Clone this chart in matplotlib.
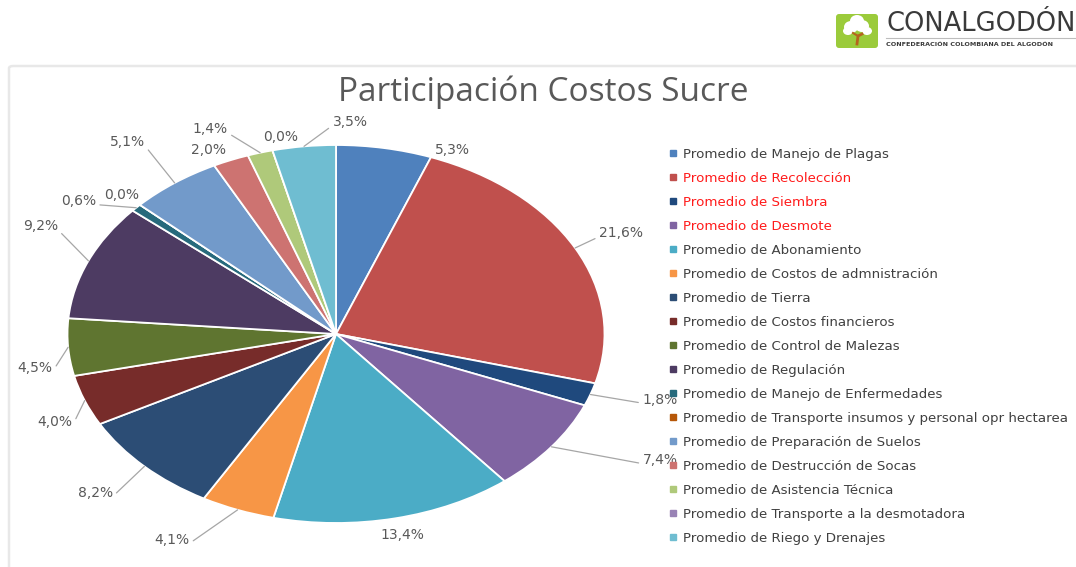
import numpy as np
import matplotlib
matplotlib.use("Agg")
import matplotlib.pyplot as plt
from matplotlib.patches import FancyBboxPatch, Ellipse
from matplotlib.lines import Line2D

# ---------------- data ----------------
categories = [
    "Promedio de Manejo de Plagas",
    "Promedio de Recolección",
    "Promedio de Siembra",
    "Promedio de Desmote",
    "Promedio de Abonamiento",
    "Promedio de Costos de admnistración",
    "Promedio de Tierra",
    "Promedio de Costos financieros",
    "Promedio de Control de Malezas",
    "Promedio de Regulación",
    "Promedio de Manejo de Enfermedades",
    "Promedio de Transporte insumos y personal opr hectarea",
    "Promedio de Preparación de Suelos",
    "Promedio de Destrucción de Socas",
    "Promedio de Asistencia Técnica",
    "Promedio de Transporte a la desmotadora",
    "Promedio de Riego y Drenajes",
]
values = [5.3, 21.6, 1.8, 7.4, 13.4, 4.1, 8.2, 4.0, 4.5, 9.2, 0.6, 0.0, 5.1, 2.0, 1.4, 0.0, 3.5]
title = "Participación Costos Sucre"

# ---------------- styles ----------------
colors = ["#4F81BD", "#C0504D", "#1F497D", "#8064A2", "#4BACC6", "#F79646",
          "#2C4D75", "#772C2A", "#5F7530", "#4D3B62", "#276A7C", "#B65708",
          "#729ACA", "#CD7371", "#AFC97A", "#9983B5", "#6FBDD1"]
legend_text_colors = ["#404040", "#FF1A1A", "#FF1A1A", "#FF1A1A"] + ["#404040"] * 13
# label placement: (angle offset from wedge middle in degrees, radius)
label_layout = [(-13.6, 1.064), (-0.4, 1.188), (2.6, 1.256), (7.7, 1.38), (0.5, 1.09),
                (-7.8, 1.25), (-1.3, 1.23), (3.4, 1.146), (5.1, 1.135), (-4.6, 1.24),
                (5.7, 1.19), (0.5, 1.087), (0.5, 1.28), (3.0, 1.084), (7.0, 1.18),
                (-2.4, 1.063), (-9.5, 1.123)]

W, H = 1076, 567
fig = plt.figure(figsize=(W / 100, H / 100), dpi=100)
fig.patch.set_facecolor("white")

# chart area frame (top-left corner at 9,66 px; runs off right and bottom)
frame = FancyBboxPatch((9 / W, -0.2), 1.2, 0.2 + 1 - 66 / H, transform=fig.transFigure,
                       boxstyle="round,pad=0,rounding_size=0.004", fc="none",
                       ec="#E8E8E8", lw=1.8, zorder=0)
fig.patches.append(frame)

# pie axes: centre at (336,334) px, radii 268.5 x 189 px
cx, cy, rx, ry = 336, 334, 268.5, 189
ax = fig.add_axes([0, 0, 1, 1])
ax.set_facecolor("none")
wedges, _ = ax.pie(values, colors=colors, startangle=90, counterclock=False,
                   wedgeprops=dict(edgecolor="white", linewidth=1.3))
ax.set_aspect("auto")
ax.set_xlim(-cx / rx, (W - cx) / rx)
ax.set_ylim(-(H - cy) / ry, cy / ry)
ax.axis("off")

def fmt(v):
    return ("%.1f" % v).replace(".", ",") + "%"

for w, v, (da, r) in zip(wedges, values, label_layout):
    mid = np.deg2rad((w.theta1 + w.theta2) / 2)
    a = mid + np.deg2rad(da)
    lx, ly = r * np.cos(a), r * np.sin(a)
    ex, ey = np.cos(mid), np.sin(mid)
    if r > 1.1:
        dxp = (lx - ex) * rx
        rp = (0.0, 0.25) if dxp > 0 else (1.0, 0.25)
        ax.annotate(fmt(v), xy=(ex, ey), xytext=(lx, ly), ha="center", va="center",
                    fontsize=10, color="#595959", family="DejaVu Sans",
                    arrowprops=dict(arrowstyle="-", color="#A6A6A6", lw=0.9,
                                    shrinkA=1, shrinkB=0, relpos=rp))
    else:
        ax.text(lx, ly, fmt(v), ha="center", va="center", fontsize=10,
                color="#595959", family="DejaVu Sans")

# title
fig.text(543 / W, 1 - 92 / H, title, ha="center", va="center", fontsize=24,
         color="#595959", family="Open Sans")

# legend
handles = [Line2D([0], [0], marker="s", linestyle="none", markersize=4.5,
                  markerfacecolor=c, markeredgecolor=c) for c in colors]
leg = fig.legend(handles, categories, loc="upper left",
                 bbox_to_anchor=(669 / W, 1 - 148 / H), frameon=False,
                 fontsize=9.6, labelspacing=0.825, handlelength=0.6,
                 handletextpad=0.45, borderaxespad=0, borderpad=0)
for t, c in zip(leg.get_texts(), legend_text_colors):
    t.set_color(c)

# logo
lg = fig.add_axes([0, 0, 1, 1], zorder=5)
lg.set_xlim(0, W)
lg.set_ylim(H, 0)
lg.axis("off")
lg.add_patch(FancyBboxPatch((836, 14), 42, 34, boxstyle="round,pad=0,rounding_size=3",
                            fc="#9BCB3B", ec="none"))
for (ex_, ey_, ew, eh) in [(851, 27, 14, 12), (862, 26, 14, 12), (857, 21, 14, 12),
                           (848, 31, 10, 8), (867, 31, 10, 8)]:
    lg.add_patch(Ellipse((ex_, ey_), ew, eh, fc="white", ec="none"))
lg.plot([857, 858, 862], [44, 36, 34], color="#B5651D", lw=2)
lg.plot([858, 853], [36, 33], color="#B5651D", lw=1.5)
lg.text(887, 24, "CONALGODÓN", fontsize=18.5, color="#3A3A3A", family="DejaVu Sans",
        va="center", ha="left")
lg.plot([886, 1076], [37.5, 37.5], color="#BDBDBD", lw=0.8)
lg.text(886, 44.5, "CONFEDERACIÓN COLOMBIANA DEL ALGODÓN", fontsize=4.6,
        color="#3A3A3A", weight="bold", family="DejaVu Sans", va="center", ha="left")

fig.savefig("out.png", dpi=100, facecolor="white")
